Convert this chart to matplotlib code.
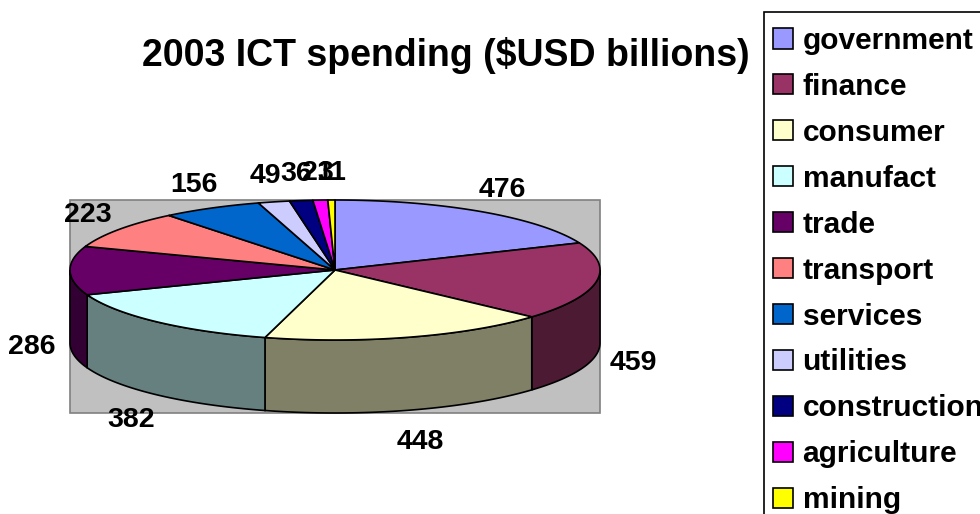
import numpy as np
import matplotlib
matplotlib.use("Agg")
import matplotlib.pyplot as plt
from matplotlib.patches import Polygon, Rectangle, Patch
from matplotlib.colors import to_rgb

# 2003 ICT spending by sector, USD billions
sectors = ["government", "finance", "consumer", "manufact", "trade", "transport",
           "services", "utilities", "construction", "agriculture", "mining"]
spending = [476, 459, 448, 382, 286, 223, 156, 49, 36, 23, 11]
colors = ["#9999ff", "#993366", "#ffffcc", "#ccffff", "#660066", "#ff8080",
          "#0066cc", "#ccccff", "#000080", "#ff00ff", "#ffff00"]

FONT = "Liberation Sans"

fig = plt.figure(figsize=(9.8, 5.14), dpi=100)
ax = fig.add_axes([0, 0, 1, 1])
ax.set_xlim(0, 980)
ax.set_ylim(514, 0)
ax.axis("off")

# ellipse geometry of the tilted pie (pixel-like units, y downward)
cx, cy, a, b, depth = 335, 270, 265, 70, 73


def pt(theta, dy=0.0):
    # theta in degrees, clockwise from 12 o'clock
    t = np.radians(theta)
    return cx + a * np.sin(t), cy - b * np.cos(t) + dy


def shade(c, f=0.5):
    r, g, bb = to_rgb(c)
    return (r * f, g * f, bb * f)


# plot area
ax.add_patch(Rectangle((cx - a, cy - b), 2 * a, 2 * b + depth,
                       facecolor="#c0c0c0", edgecolor="#808080", lw=1.2, zorder=0))

vals = np.array(spending, dtype=float)
edges = np.concatenate([[0], np.cumsum(vals) / vals.sum() * 360])

# side walls (front half only)
for i, c in enumerate(colors):
    t0, t1 = max(edges[i], 90), min(edges[i + 1], 270)
    if t1 <= t0:
        continue
    th = np.linspace(t0, t1, 80)
    top = [pt(t) for t in th]
    bot = [pt(t, depth) for t in th[::-1]]
    ax.add_patch(Polygon(top + bot, closed=True, facecolor=shade(c),
                         edgecolor="black", lw=1.2, zorder=1))

# top faces
for i, c in enumerate(colors):
    th = np.linspace(edges[i], edges[i + 1], 120)
    poly = [(cx, cy)] + [pt(t) for t in th]
    ax.add_patch(Polygon(poly, closed=True, facecolor=c, edgecolor="black",
                         lw=1.2, zorder=2, joinstyle="round"))

# value labels
for i, v in enumerate(spending):
    mid = (edges[i] + edges[i + 1]) / 2
    t = np.radians(mid)
    x = cx + (a + 38) * np.sin(t)
    y = cy - (b + 30) * np.cos(t) + (depth if np.cos(t) < 0 else 0)
    ax.text(x, y + 3, str(v), ha="center", va="center", fontsize=20.5,
            fontweight="bold", family=FONT, zorder=5)

ax.text(446, 55, "2003 ICT spending ($USD billions)", ha="center", va="center",
        fontsize=27, fontweight="bold", family=FONT)

# legend box (runs past the right and bottom edges)
ax.add_patch(Rectangle((764, 12), 260, 560, facecolor="white",
                       edgecolor="black", lw=1.2, zorder=6))

handles = [Patch(facecolor=c, edgecolor="black", lw=1.2) for c in colors]
leg = fig.legend(handles, sectors, loc="upper left",
                 bbox_to_anchor=(773 / 980, 1 - 27 / 514), borderaxespad=0,
                 prop={"family": FONT, "weight": "bold", "size": 21.5},
                 handlelength=0.66, handleheight=0.66, handletextpad=0.33,
                 labelspacing=0.6, borderpad=0.0, frameon=False)
leg.set_zorder(7)

fig.savefig("out.png", dpi=100)
